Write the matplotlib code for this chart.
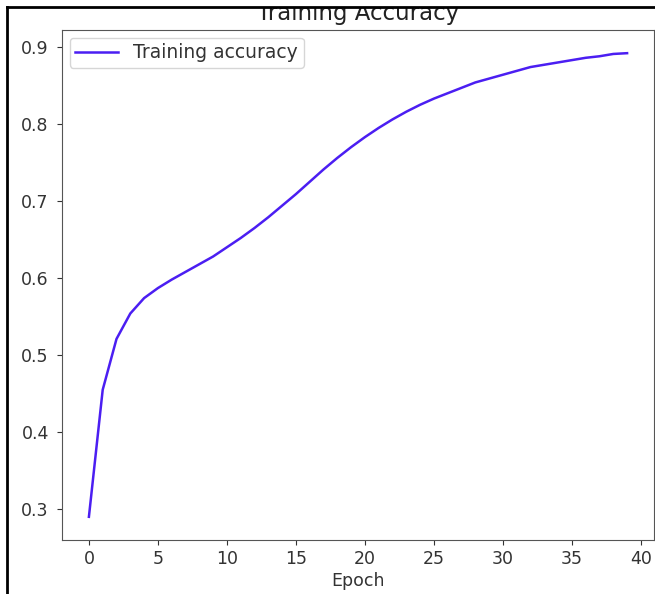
import matplotlib
matplotlib.use("Agg")
import matplotlib.pyplot as plt
from matplotlib.patches import Rectangle
from matplotlib.lines import Line2D

epochs = list(range(40))
train_acc = [0.290, 0.455, 0.521, 0.554, 0.574, 0.587, 0.598, 0.608, 0.618, 0.628,
             0.640, 0.652, 0.665, 0.679, 0.694, 0.709, 0.725, 0.741, 0.756, 0.770,
             0.783, 0.795, 0.806, 0.816, 0.825, 0.833, 0.840, 0.847, 0.854, 0.859,
             0.864, 0.869, 0.874, 0.877, 0.880, 0.883, 0.886, 0.888, 0.891, 0.892]
title = "Training Accuracy"
xlabel = "Epoch"
legend_label = "Training accuracy"

W, H = 655, 594
fig = plt.figure(figsize=(W / 100, H / 100), dpi=100)
ax = fig.add_axes([62 / W, 1 - 540 / H, (654 - 62) / W, (540 - 30) / H])

ax.plot(epochs, train_acc, color="#4b1ef2", lw=1.8, label=legend_label)
ax.set_title(title, fontsize=16.5, color="#222222", pad=7)
ax.set_xlabel(xlabel, fontsize=12.5, color="#333333", labelpad=3)
ax.set_xticks([0, 5, 10, 15, 20, 25, 30, 35, 40])
ax.set_yticks([0.3, 0.4, 0.5, 0.6, 0.7, 0.8, 0.9])
ax.tick_params(labelsize=12.5, colors="#333333")
ax.tick_params(axis="y", pad=6)
for s in ax.spines.values():
    s.set_color("#555555")
leg = ax.legend(loc="upper left", fontsize=13.5, borderaxespad=0.4,
                borderpad=0.3, handlelength=2.3)
for t in leg.get_texts():
    t.set_color("#333333")

# screenshot frame: white strip above top line, black border top and left
fig.patches.append(Rectangle((0, 1 - 7 / H), 1, 7 / H, transform=fig.transFigure,
                             facecolor="white", edgecolor="none", zorder=10))
fig.lines.append(Line2D([7 / W, 1], [1 - 7 / H, 1 - 7 / H], transform=fig.transFigure,
                        color="black", lw=2, zorder=11))
fig.lines.append(Line2D([7 / W, 7 / W], [0, 1 - 7 / H], transform=fig.transFigure,
                        color="black", lw=2, zorder=11))

fig.savefig("out.png", dpi=100)
